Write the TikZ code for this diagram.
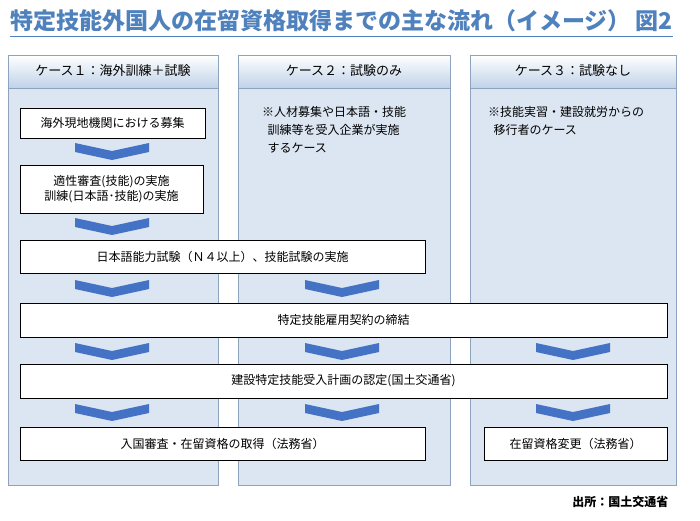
\documentclass[tikz,border=0pt]{standalone}
\usepackage{fontspec}
\setmainfont{Noto Sans CJK JP}
\usetikzlibrary{calc}
\definecolor{ttl}{HTML}{4F81BD}
\definecolor{pan}{HTML}{DCE6F2}
\definecolor{panb}{HTML}{8EA4BE}
\definecolor{chev}{HTML}{4472C4}
\tikzset{
 panel/.style={draw=panb,fill=pan,line width=0.8pt},
 stepbox/.style={draw=black,fill=white,line width=0.8pt,font=\fontsize{12}{15}\selectfont,align=center},
 hdr/.style={font=\fontsize{13}{15}\selectfont},
}
\newcommand{\chevron}[3]{% x, top, name
 \fill[chev] (#1-37,#2) -- (#1,#2+8) -- (#1+37,#2) -- (#1+37,#2+9) -- (#1,#2+17) -- (#1-37,#2+9) -- cycle;
 \coordinate (#3) at (#1,#2);}
\begin{document}
\begin{tikzpicture}[x=1pt,y=-1pt]
\useasboundingbox[fill=white] (0,0) rectangle (700,520);
\node[text=ttl,font=\bfseries\fontsize{23}{25}\selectfont,anchor=west,inner sep=0pt] (title) at (10,21) {特定技能外国人の在留資格取得までの主な流れ（イメージ） 図2};
\draw[ttl,line width=1pt] (10,36) -- (title.east |- 0,36);
% panels
\foreach \a/\b/\n/\t in {8/218/p1/ケース１：海外訓練＋試験,238/450/p2/ケース２：試験のみ,470/676/p3/ケース３：試験なし}{
 \draw[panel] (\a,55) rectangle (\b,485);
 \shade[top color=white,bottom color=pan!80!ttl] (\a,55) rectangle (\b,88);
 \draw[panb,line width=0.8pt] (\a,55) rectangle (\b,485);
 \draw[panb] (\a,88) -- (\b,88);
 \node[hdr] (\n) at ({(\a+\b)/2},71) {\t};
}
\node[anchor=north west,align=left,font=\fontsize{12}{18}\selectfont,inner sep=0pt] (n2) at (262,106) {※人材募集や日本語・技能\\\ \ 訓練等を受入企業が実施\\\ \ するケース};
\node[anchor=north west,align=left,font=\fontsize{12}{18}\selectfont,inner sep=0pt] (n3) at (488,106) {※技能実習・建設就労からの\\\ \ 移行者のケース};
% boxes
\node[stepbox,minimum width=185pt,minimum height=30pt] (b1) at (112.5,123) {海外現地機関における募集};
\node[stepbox,minimum width=183pt,minimum height=48pt] (b2) at (111.5,189) {適性審査(技能)の実施\\訓練(日本語･技能)の実施};
\node[stepbox,minimum width=405pt,minimum height=33pt] (b3) at (222.5,256.5) {日本語能力試験（Ｎ４以上）、技能試験の実施};
\node[stepbox,minimum width=647pt,minimum height=34pt] (b4) at (343.5,320) {特定技能雇用契約の締結};
\node[stepbox,minimum width=647pt,minimum height=34pt] (b5) at (343.5,381) {建設特定技能受入計画の認定(国土交通省)};
\node[stepbox,minimum width=405pt,minimum height=33pt] (b6) at (222.5,443.5) {入国審査・在留資格の取得（法務省）};
\node[stepbox,minimum width=183pt,minimum height=33pt] (b7) at (575.5,443.5) {在留資格変更（法務省）};
% chevrons
\chevron{112}{143}{c1}
\chevron{112}{218}{c2}
\chevron{112}{280}{c3}
\chevron{342}{280}{c4}
\chevron{112}{343}{c5}
\chevron{342}{343}{c6}
\chevron{573}{343}{c7}
\chevron{112}{404}{c8}
\chevron{342}{404}{c9}
\chevron{573}{404}{c10}
\node[font=\bfseries\fontsize{12}{14}\selectfont,anchor=east] (src) at (672,502) {出所：国土交通省};
\end{tikzpicture}
\end{document}
